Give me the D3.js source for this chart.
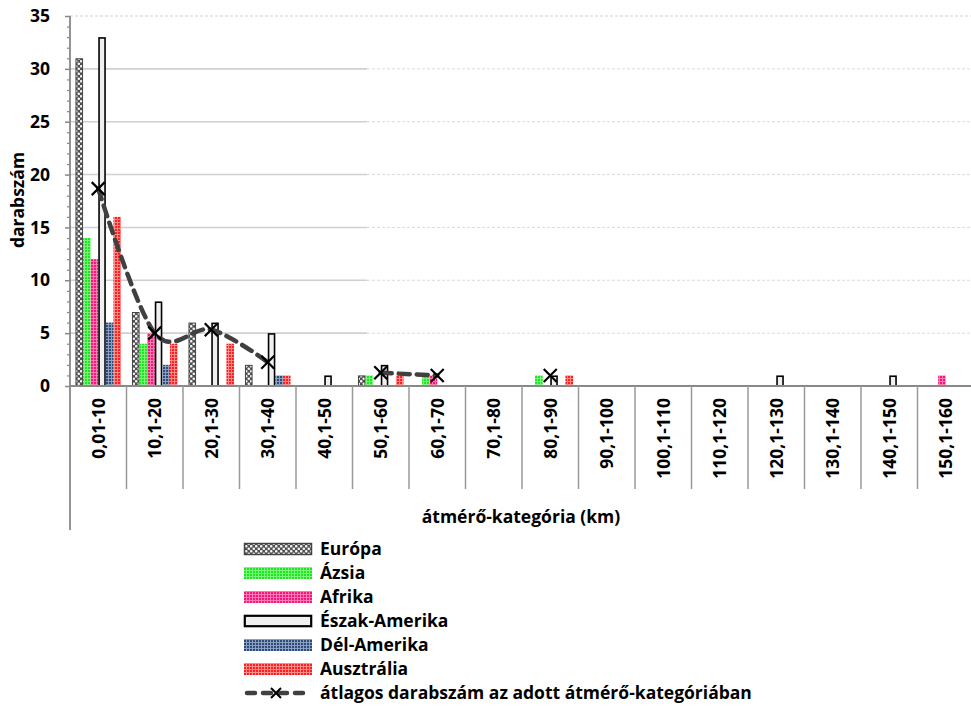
<!DOCTYPE html>
<html><head><meta charset="utf-8">
<script src="https://cdn.jsdelivr.net/npm/d3@7"></script>
<style>
body{margin:0;background:#fff;}
text{font-family:"Open Sans",Lato,sans-serif;font-weight:bold;fill:#000;}
</style></head>
<body><svg id="c" width="971" height="706"></svg>
<script>
const categories = ["0,01-10","10,1-20","20,1-30","30,1-40","40,1-50","50,1-60","60,1-70","70,1-80","80,1-90","90,1-100","100,1-110","110,1-120","120,1-130","130,1-140","140,1-150","150,1-160"];
const seriesNames = ["Európa","Ázsia","Afrika","Észak-Amerika","Dél-Amerika","Ausztrália"];
const europa   = [31,7,6,2,0,1,0,0,0,0,0,0,0,0,0,0];
const azsia    = [14,4,0,0,0,1,1,0,1,0,0,0,0,0,0,0];
const afrika   = [12,5,0,0,0,0,1,0,0,0,0,0,0,0,0,1];
const eszakAm  = [33,8,6,5,1,2,0,0,1,0,0,0,1,0,1,0];
const delAm    = [6,2,0,1,0,0,0,0,0,0,0,0,0,0,0,0];
const ausztr   = [16,4,4,1,0,1,0,0,1,0,0,0,0,0,0,0];
const atlag    = [18.67,5,5.33,2.25,null,1.25,1,null,1,null,null,null,null,null,null,null];
const avgName = "átlagos darabszám az adott átmérő-kategóriában";
const yTicks = [0,5,10,15,20,25,30,35];

const seriesData = [europa,azsia,afrika,eszakAm,delAm,ausztr];
const FS = 17.5;

const svg = d3.select("#c");
const defs = svg.append("defs");

function gridPattern(id, base, line, step){
  const p = defs.append("pattern").attr("id",id).attr("patternUnits","userSpaceOnUse").attr("width",step).attr("height",step);
  p.append("rect").attr("width",step).attr("height",step).attr("fill",base);
  p.append("rect").attr("x",0).attr("y",0).attr("width",step).attr("height",1).attr("fill",line);
  p.append("rect").attr("x",0).attr("y",0).attr("width",1).attr("height",step).attr("fill",line);
}
gridPattern("pAzsia","#1ee61e","#7cf57c",3);
gridPattern("pAfrika","#f5157d","#ff7ab5",3);
gridPattern("pDel","#2d4a78","#8aa0c0",3);
gridPattern("pAusz","#ff1e1e","#ff8a8a",3);
(function(){
  const p = defs.append("pattern").attr("id","pEur").attr("patternUnits","userSpaceOnUse").attr("width",5).attr("height",5);
  p.append("rect").attr("width",5).attr("height",5).attr("fill","#505050");
  p.append("circle").attr("cx",1.25).attr("cy",1.25).attr("r",1.3).attr("fill","#f2f2f2");
  p.append("circle").attr("cx",3.75).attr("cy",3.75).attr("r",1.3).attr("fill","#f2f2f2");
})();

const styles = [
  {fill:"url(#pEur)", stroke:"#444", sw:1},
  {fill:"url(#pAzsia)", stroke:"none", sw:0},
  {fill:"url(#pAfrika)", stroke:"none", sw:0},
  {fill:"#f0f0f0", stroke:"#000", sw:1.6},
  {fill:"url(#pDel)", stroke:"none", sw:0},
  {fill:"url(#pAusz)", stroke:"none", sw:0}
];

const x0 = 70, x1 = 974, yTop = 16, yBot = 386;
const x = d3.scaleBand().domain(categories).range([x0,x1]).padding(0);
const xs = d3.scaleBand().domain(seriesNames).range([0,x.bandwidth()]).paddingInner(0).paddingOuter(0.72);
const y = d3.scaleLinear().domain([0,35]).range([yBot,yTop]);

// gridlines
const grid = svg.append("g");
yTicks.filter(v=>v>0).forEach(v=>{
  if(v===35){
    grid.append("line").attr("x1",x0).attr("x2",x1).attr("y1",y(v)).attr("y2",y(v))
      .attr("stroke","#cfcfcf").attr("stroke-width",1.2).attr("stroke-dasharray","3,2");
  } else {
    grid.append("line").attr("x1",x0).attr("x2",367).attr("y1",y(v)).attr("y2",y(v))
      .attr("stroke","#d0d0d0").attr("stroke-width",1.6);
    grid.append("line").attr("x1",367).attr("x2",x1).attr("y1",y(v)).attr("y2",y(v))
      .attr("stroke","#dadada").attr("stroke-width",1).attr("stroke-dasharray","3,2");
  }
});

// bars
const bars = svg.append("g");
seriesData.forEach((arr,si)=>{
  const st = styles[si];
  bars.selectAll(null).data(arr.map((v,i)=>({v,c:categories[i]})).filter(d=>d.v>0)).enter()
    .append("rect")
    .attr("x",d=>x(d.c)+xs(seriesNames[si]) + st.sw/2)
    .attr("y",d=>y(d.v)+st.sw/2)
    .attr("width",xs.bandwidth()-st.sw)
    .attr("height",d=>y(0)-y(d.v)-st.sw/2)
    .attr("fill",st.fill).attr("stroke",st.stroke).attr("stroke-width",st.sw);
});

// y axis
const yAxis = d3.axisLeft(y).tickValues(yTicks).tickSize(5).tickFormat(d3.format("d"));
const ya = svg.append("g").attr("transform",`translate(${x0},0)`).call(yAxis);
ya.select(".domain").remove();
ya.selectAll(".tick line").attr("stroke","#888").attr("stroke-width",1.5);
ya.selectAll(".tick text").attr("x",-20).attr("font-size",FS).attr("font-family","'Open Sans', sans-serif").attr("font-weight","bold").attr("fill","#000");
const yMinor = d3.axisLeft(y).tickValues(d3.range(0,36).filter(v=>v%5!==0)).tickSize(3).tickFormat("");
const ym = svg.append("g").attr("transform",`translate(${x0},0)`).call(yMinor);
ym.select(".domain").remove();
ym.selectAll(".tick line").attr("stroke","#888").attr("stroke-width",1.2);
svg.append("line").attr("x1",x0).attr("x2",x0).attr("y1",yTop).attr("y2",530).attr("stroke","#888").attr("stroke-width",1.8);

// x axis
svg.append("line").attr("x1",x0).attr("x2",x1).attr("y1",yBot).attr("y2",yBot).attr("stroke","#888").attr("stroke-width",2);
const xg = svg.append("g");
categories.forEach((c,i)=>{
  if(i>0) xg.append("line").attr("x1",x(c)).attr("x2",x(c)).attr("y1",yBot).attr("y2",489).attr("stroke","#999").attr("stroke-width",1.5);
  xg.append("text").attr("transform",`translate(${x(c)+x.bandwidth()/2+6.5},398) rotate(-90)`)
    .attr("text-anchor","end").attr("font-size",FS).text(c);
});
xg.append("line").attr("x1",x1).attr("x2",x1).attr("y1",yBot).attr("y2",489).attr("stroke","#999").attr("stroke-width",1.5);

// average line (smoothed)
const line = d3.line().defined(d=>d.v!==null).curve(d3.curveCatmullRom.alpha(0))
  .x(d=>x(d.c)+x.bandwidth()/2).y(d=>y(d.v));
const avgPts = atlag.map((v,i)=>({v,c:categories[i]}));
svg.append("path").datum(avgPts).attr("d",line).attr("fill","none")
  .attr("stroke","#404040").attr("stroke-width",4.5).attr("stroke-dasharray","11,7").attr("stroke-linecap","round");
const mk = svg.append("g");
avgPts.filter(d=>d.v!==null).forEach(d=>{
  const cx = x(d.c)+x.bandwidth()/2, cy = y(d.v), r=6.5;
  mk.append("path").attr("d",`M${cx-r},${cy-r}L${cx+r},${cy+r}M${cx-r},${cy+r}L${cx+r},${cy-r}`)
    .attr("stroke","#000").attr("stroke-width",2.2);
});

// axis titles
svg.append("text").attr("transform","translate(24,200) rotate(-90)").attr("text-anchor","middle").attr("font-size",FS).text("darabszám");
svg.append("text").attr("x",521).attr("y",523).attr("text-anchor","middle").attr("font-size",FS).text("átmérő-kategória (km)");

// legend
const lg = svg.append("g");
const ly0 = 549, ldy = 24;
seriesNames.forEach((n,i)=>{
  const st = styles[i];
  const yy = ly0 + i*ldy;
  lg.append("rect").attr("x",244+st.sw/2).attr("y",yy-6+st.sw/2).attr("width",68-st.sw).attr("height",12-st.sw)
    .attr("fill",st.fill).attr("stroke",st.stroke==="none"?"none":st.stroke).attr("stroke-width",st.sw>0?(i===3?2.2:1.5):0);
  lg.append("text").attr("x",320).attr("y",yy+6).attr("font-size",FS).text(n);
});
const ay = ly0 + 6*ldy;
lg.append("line").attr("x1",247).attr("x2",309).attr("y1",ay).attr("y2",ay)
  .attr("stroke","#404040").attr("stroke-width",4.5).attr("stroke-dasharray","8,8").attr("stroke-linecap","round");
lg.append("path").attr("d",`M${276-5},${ay-5}L${276+5},${ay+5}M${276-5},${ay+5}L${276+5},${ay-5}`).attr("stroke","#000").attr("stroke-width",2);
lg.append("text").attr("x",320).attr("y",ay+6).attr("font-size",FS).text(avgName);
</script></body></html>
